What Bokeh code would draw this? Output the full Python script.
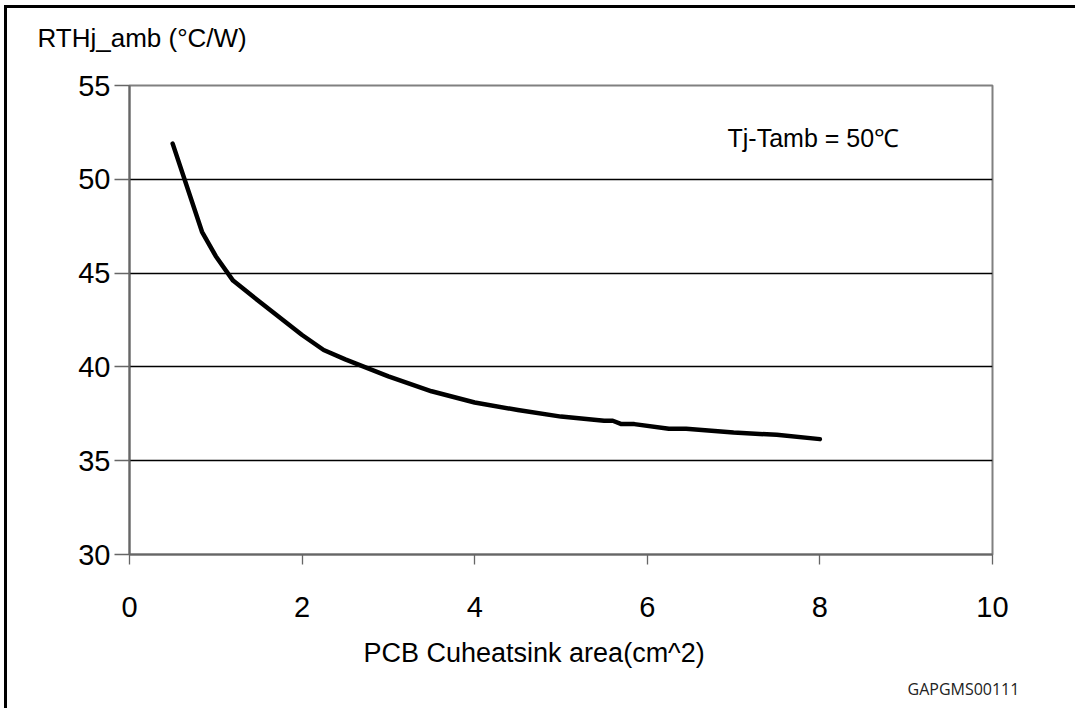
from bokeh.plotting import figure
from bokeh.models import Label, FixedTicker, Range1d, Title
from bokeh.embed import file_html
from bokeh.resources import INLINE

# data
area_cm2 = [0.5, 0.84, 1.0, 1.2, 1.5, 2.0, 2.25, 2.5, 3.0, 3.5, 4.0, 4.5, 5.0,
            5.5, 5.6, 5.7, 5.85, 6.25, 6.45, 7.0, 7.5, 8.0]
rth = [51.9, 47.2, 45.9, 44.6, 43.5, 41.7, 40.9, 40.4, 39.5, 38.7, 38.1, 37.7, 37.35,
       37.13, 37.13, 36.95, 36.95, 36.7, 36.7, 36.5, 36.38, 36.15]
x_ticks = [0, 2, 4, 6, 8, 10]
y_ticks = [30, 35, 40, 45, 50, 55]
grid_ticks = [35, 40, 45, 50]

y_title = "RTHj_amb (°C/W)"
x_title = "PCB Cuheatsink area(cm^2)"
note = "Tj-Tamb = 50℃"
code = "GAPGMS00111"

FONT = "Liberation Sans"

p = figure(width=1071, height=703, output_backend="svg", toolbar_location=None,
           x_range=Range1d(0, 10), y_range=Range1d(30, 55),
           min_border_left=122, min_border_right=86, min_border_top=77,
           min_border_bottom=157)
p.styles = {"border-left": "3px solid black", "border-top": "3px solid black",
            "margin-left": "4px", "margin-top": "5px"}
p.background_fill_color = "white"
p.border_fill_color = "white"
p.outline_line_color = "#808080"
p.outline_line_width = 2

# spacer (closest to the frame) then the y-axis title above it
p.add_layout(Title(text=" ", text_font=FONT, text_font_size="10px", standoff=20), "above")
p.add_layout(Title(text=y_title, text_font=FONT, text_font_size="26px", text_font_style="normal",
                   text_color="black", align="left", offset=-92, standoff=0), "above")

p.xaxis.ticker = FixedTicker(ticks=x_ticks)
p.yaxis.ticker = FixedTicker(ticks=y_ticks)
p.xgrid.visible = False
p.ygrid.ticker = FixedTicker(ticks=grid_ticks)
p.ygrid.grid_line_color = "black"
p.ygrid.grid_line_width = 1.3

for ax in (p.xaxis, p.yaxis):
    ax.axis_line_color = "#666666"
    ax.axis_line_width = 2
    ax.major_tick_line_color = "#666666"
    ax.major_tick_line_width = 1.3
    ax.minor_tick_line_color = None
    ax.major_label_text_font = FONT
    ax.major_label_text_font_size = "29px"
    ax.major_label_text_color = "black"
    ax.major_tick_in = 0

p.xaxis.major_tick_out = 10
p.xaxis.major_label_standoff = 32
p.yaxis.major_tick_out = 15
p.yaxis.major_label_standoff = 4

p.line(area_cm2, rth, line_color="black", line_width=4.5, line_join="round", line_cap="round")

p.add_layout(Label(x=(727 - 129) / 86.3, y=55 - (137 - 85) / 18.76, text=note, text_font=FONT,
                   text_font_size="25px", text_baseline="alphabetic", text_color="black"))

# x-axis title and figure code below the axis
p.add_layout(Title(text=x_title, align="left", text_font=FONT, text_font_size="27px",
                   text_font_style="normal", text_color="black", offset=234, standoff=32),
             "below")
code_title = Title(text=code, align="left", text_font="Open Sans", text_font_size="16px",
                   text_font_style="normal", text_color="#222222", offset=778, standoff=4)
try:
    code_title.standoff = -16
except Exception:
    pass
p.add_layout(code_title, "below")

open("out.html", "w").write(file_html(p, INLINE))
